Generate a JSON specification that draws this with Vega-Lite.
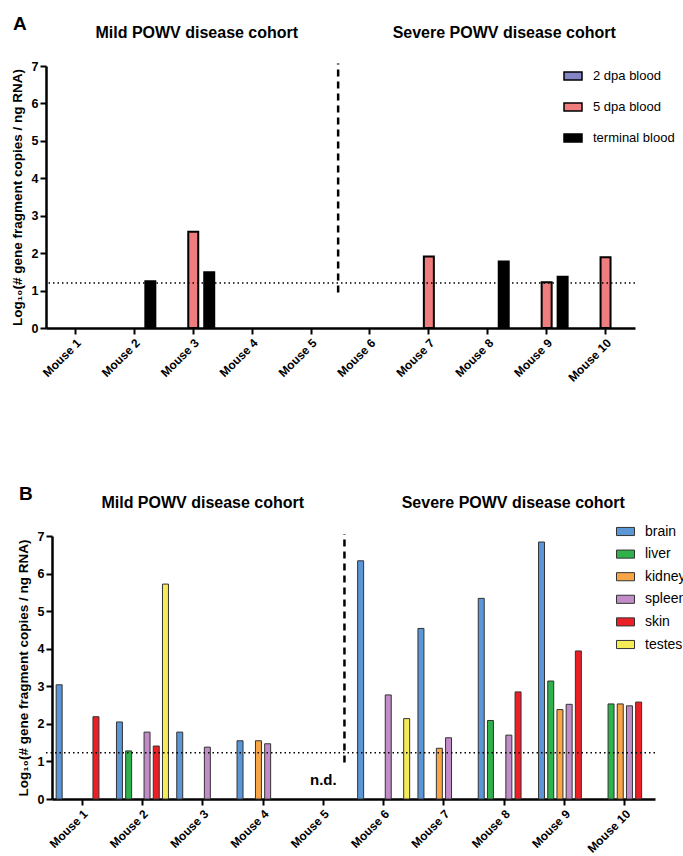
{
  "$schema": "https://vega.github.io/schema/vega-lite/v6.json",
  "padding": {"left": 10, "top": 15, "right": 0, "bottom": 0},
  "background": "white",
  "config": {
    "font": "Liberation Sans",
    "view": {"stroke": null},
    "axis": {
      "grid": false,
      "domainColor": "black",
      "domainWidth": 2.5,
      "tickColor": "black",
      "tickWidth": 2,
      "tickSize": 6,
      "labelColor": "black",
      "labelFont": "Liberation Sans",
      "labelFontWeight": "bold",
      "labelFontSize": 12.5,
      "titleFont": "Liberation Sans",
      "titleFontWeight": "bold",
      "titleFontSize": 13.5,
      "titleColor": "black"
    },
    "legend": {
      "labelFont": "Liberation Sans",
      "labelFontSize": 13,
      "labelColor": "black",
      "symbolType": "M-1,-0.45H1V0.45H-1Z",
      "symbolSize": 324,
      "symbolStrokeColor": "black",
      "symbolStrokeWidth": 1.5,
      "labelOffset": 10
    }
  },
  "datasets": {
    "bloodA": [
      {"mouse": "Mouse 2", "sample": "terminal blood", "value": 1.25},
      {"mouse": "Mouse 3", "sample": "5 dpa blood", "value": 2.57},
      {"mouse": "Mouse 3", "sample": "terminal blood", "value": 1.49},
      {"mouse": "Mouse 7", "sample": "5 dpa blood", "value": 1.91},
      {"mouse": "Mouse 8", "sample": "terminal blood", "value": 1.78},
      {"mouse": "Mouse 9", "sample": "5 dpa blood", "value": 1.22},
      {"mouse": "Mouse 9", "sample": "terminal blood", "value": 1.37},
      {"mouse": "Mouse 10", "sample": "5 dpa blood", "value": 1.89}
    ],
    "tissueB": [
      {"mouse": "Mouse 1", "tissue": "brain", "value": 3.04},
      {"mouse": "Mouse 1", "tissue": "skin", "value": 2.19},
      {"mouse": "Mouse 2", "tissue": "brain", "value": 2.05},
      {"mouse": "Mouse 2", "tissue": "liver", "value": 1.28},
      {"mouse": "Mouse 2", "tissue": "spleen", "value": 1.78},
      {"mouse": "Mouse 2", "tissue": "skin", "value": 1.41},
      {"mouse": "Mouse 2", "tissue": "testes", "value": 5.72},
      {"mouse": "Mouse 3", "tissue": "brain", "value": 1.78},
      {"mouse": "Mouse 3", "tissue": "spleen", "value": 1.38},
      {"mouse": "Mouse 4", "tissue": "brain", "value": 1.55},
      {"mouse": "Mouse 4", "tissue": "kidney", "value": 1.55},
      {"mouse": "Mouse 4", "tissue": "spleen", "value": 1.47},
      {"mouse": "Mouse 6", "tissue": "brain", "value": 6.34},
      {"mouse": "Mouse 6", "tissue": "spleen", "value": 2.77},
      {"mouse": "Mouse 6", "tissue": "testes", "value": 2.14},
      {"mouse": "Mouse 7", "tissue": "brain", "value": 4.54},
      {"mouse": "Mouse 7", "tissue": "kidney", "value": 1.35},
      {"mouse": "Mouse 7", "tissue": "spleen", "value": 1.63},
      {"mouse": "Mouse 8", "tissue": "brain", "value": 5.34},
      {"mouse": "Mouse 8", "tissue": "liver", "value": 2.09},
      {"mouse": "Mouse 8", "tissue": "spleen", "value": 1.7},
      {"mouse": "Mouse 8", "tissue": "skin", "value": 2.85},
      {"mouse": "Mouse 9", "tissue": "brain", "value": 6.84},
      {"mouse": "Mouse 9", "tissue": "liver", "value": 3.14},
      {"mouse": "Mouse 9", "tissue": "kidney", "value": 2.38},
      {"mouse": "Mouse 9", "tissue": "spleen", "value": 2.52},
      {"mouse": "Mouse 9", "tissue": "skin", "value": 3.94},
      {"mouse": "Mouse 10", "tissue": "liver", "value": 2.53},
      {"mouse": "Mouse 10", "tissue": "kidney", "value": 2.53},
      {"mouse": "Mouse 10", "tissue": "spleen", "value": 2.48},
      {"mouse": "Mouse 10", "tissue": "skin", "value": 2.58}
    ]
  },
  "bounds": "flush",
  "spacing": 208,
  "resolve": {
    "scale": {"color": "independent", "xOffset": "independent", "x": "independent", "y": "independent"},
    "legend": {"color": "independent"},
    "axis": {"x": "independent", "y": "independent"}
  },
  "vconcat": [
    {
      "width": 589,
      "height": 262,
      "title": {"text": "A", "anchor": "start", "frame": "bounds", "fontSize": 19, "fontWeight": "bold", "font": "Liberation Sans", "offset": -9, "dx": 3, "color": "black"},
      "layer": [
        {
          "data": {"name": "bloodA"},
          "mark": {"type": "bar", "stroke": "black", "strokeWidth": 2},
          "encoding": {
            "x": {
              "field": "mouse", "type": "nominal",
              "scale": {"domain": ["Mouse 1","Mouse 2","Mouse 3","Mouse 4","Mouse 5","Mouse 6","Mouse 7","Mouse 8","Mouse 9","Mouse 10"], "paddingInner": 0, "paddingOuter": 0},
              "axis": {"title": null, "labelAngle": -45, "labelPadding": 3, "labelFontSize": 12}
            },
            "xOffset": {
              "field": "sample", "type": "nominal",
              "scale": {"domain": ["2 dpa blood","5 dpa blood","terminal blood"], "paddingInner": 0.375, "paddingOuter": 0.53}
            },
            "y": {
              "field": "value", "type": "quantitative",
              "scale": {"domain": [0, 7], "nice": false},
              "axis": {"title": "Log₁₀(# gene fragment copies / ng RNA)", "values": [0,1,2,3,4,5,6,7], "labelOverlap": false, "labelPadding": 2, "titlePadding": 7}
            },
            "color": {
              "field": "sample", "type": "nominal",
              "scale": {"domain": ["2 dpa blood","5 dpa blood","terminal blood"], "range": ["#8585c6","#ef7d7d","#000000"]},
              "legend": {"title": null, "orient": "none", "legendX": 517, "legendY": 0, "rowPadding": 13}
            }
          }
        },
        {
          "data": {"values": [{}]},
          "mark": {"type": "rule", "strokeDash": [1.5, 3], "strokeWidth": 1.5, "color": "black"},
          "encoding": {"y": {"datum": 1.2, "type": "quantitative", "axis": {"title": "Log₁₀(# gene fragment copies / ng RNA)", "values": [0,1,2,3,4,5,6,7], "labelOverlap": false, "labelPadding": 2, "titlePadding": 7}}}
        },
        {
          "data": {"values": [{}]},
          "mark": {"type": "rule", "strokeDash": [7, 5], "strokeWidth": 2.5, "color": "black"},
          "encoding": {
            "x": {"datum": "Mouse 5", "type": "nominal", "bandPosition": 0.96},
            "y": {"datum": 0.95, "type": "quantitative", "axis": {"title": "Log₁₀(# gene fragment copies / ng RNA)", "values": [0,1,2,3,4,5,6,7], "labelOverlap": false, "labelPadding": 2, "titlePadding": 7}},
            "y2": {"datum": 7.07}
          }
        },
        {
          "data": {"values": [{}]},
          "mark": {"type": "text", "fontSize": 16, "fontWeight": "bold", "color": "black"},
          "encoding": {
            "x": {"datum": "Mouse 3", "type": "nominal", "bandPosition": 0.56},
            "y": {"datum": 7.87, "type": "quantitative", "axis": {"title": "Log₁₀(# gene fragment copies / ng RNA)", "values": [0,1,2,3,4,5,6,7], "labelOverlap": false, "labelPadding": 2, "titlePadding": 7}},
            "text": {"value": "Mild POWV disease cohort"}
          }
        },
        {
          "data": {"values": [{}]},
          "mark": {"type": "text", "fontSize": 16, "fontWeight": "bold", "color": "black"},
          "encoding": {
            "x": {"datum": "Mouse 8", "type": "nominal", "bandPosition": 0.78},
            "y": {"datum": 7.87, "type": "quantitative", "axis": {"title": "Log₁₀(# gene fragment copies / ng RNA)", "values": [0,1,2,3,4,5,6,7], "labelOverlap": false, "labelPadding": 2, "titlePadding": 7}},
            "text": {"value": "Severe POWV disease cohort"}
          }
        }
      ]
    },
    {
      "width": 609,
      "height": 263,
      "title": {"text": "B", "anchor": "start", "frame": "bounds", "fontSize": 19, "fontWeight": "bold", "font": "Liberation Sans", "offset": -9, "dx": 3, "color": "black"},
      "layer": [
        {
          "data": {"name": "tissueB"},
          "mark": {"type": "bar", "stroke": "#333333", "strokeWidth": 1},
          "encoding": {
            "x": {
              "field": "mouse", "type": "nominal",
              "scale": {"domain": ["Mouse 1","Mouse 2","Mouse 3","Mouse 4","Mouse 5","Mouse 6","Mouse 7","Mouse 8","Mouse 9","Mouse 10"], "paddingInner": 0, "paddingOuter": 0, "range": [6, 609]},
              "axis": {"title": null, "labelAngle": -45, "labelPadding": 3, "labelFontSize": 12}
            },
            "xOffset": {
              "field": "tissue", "type": "nominal",
              "scale": {"domain": ["brain","liver","kidney","spleen","skin","testes"], "paddingInner": 0.35, "paddingOuter": 0.45}
            },
            "y": {
              "field": "value", "type": "quantitative",
              "scale": {"domain": [0, 7], "nice": false},
              "axis": {"title": "Log₁₀(# gene fragment copies / ng RNA)", "values": [0,1,2,3,4,5,6,7], "labelOverlap": false, "labelPadding": 2, "titlePadding": 7, "offset": -6}
            },
            "color": {
              "field": "tissue", "type": "nominal",
              "scale": {"domain": ["brain","liver","kidney","spleen","skin","testes"], "range": ["#5b96d6","#2fb14b","#f8a546","#c28cc8","#ec1f27","#f6ec58"]},
              "legend": {"title": null, "orient": "none", "legendX": 570, "legendY": -14, "rowPadding": 5.6, "labelFontSize": 14, "symbolStrokeColor": "#333333", "symbolStrokeWidth": 1}
            }
          }
        },
        {
          "data": {"values": [{}]},
          "mark": {"type": "rule", "strokeDash": [1.5, 3], "strokeWidth": 1.5, "color": "black"},
          "encoding": {"y": {"datum": 1.23, "type": "quantitative", "axis": {"title": "Log₁₀(# gene fragment copies / ng RNA)", "values": [0,1,2,3,4,5,6,7], "labelOverlap": false, "labelPadding": 2, "titlePadding": 7, "offset": -6}}}
        },
        {
          "data": {"values": [{}]},
          "mark": {"type": "rule", "strokeDash": [7, 5], "strokeWidth": 2.5, "color": "black"},
          "encoding": {
            "x": {"datum": "Mouse 5", "type": "nominal", "bandPosition": 0.85},
            "y": {"datum": 0.97, "type": "quantitative", "axis": {"title": "Log₁₀(# gene fragment copies / ng RNA)", "values": [0,1,2,3,4,5,6,7], "labelOverlap": false, "labelPadding": 2, "titlePadding": 7, "offset": -6}},
            "y2": {"datum": 7.05}
          }
        },
        {
          "data": {"values": [{}]},
          "mark": {"type": "text", "fontSize": 15, "fontWeight": "bold", "color": "black"},
          "encoding": {
            "x": {"datum": "Mouse 5", "type": "nominal", "bandPosition": 0.5},
            "y": {"datum": 0.51, "type": "quantitative", "axis": {"title": "Log₁₀(# gene fragment copies / ng RNA)", "values": [0,1,2,3,4,5,6,7], "labelOverlap": false, "labelPadding": 2, "titlePadding": 7, "offset": -6}},
            "text": {"value": "n.d."}
          }
        },
        {
          "data": {"values": [{}]},
          "mark": {"type": "text", "fontSize": 16, "fontWeight": "bold", "color": "black"},
          "encoding": {
            "x": {"datum": "Mouse 3", "type": "nominal", "bandPosition": 0.5},
            "y": {"datum": 7.88, "type": "quantitative", "axis": {"title": "Log₁₀(# gene fragment copies / ng RNA)", "values": [0,1,2,3,4,5,6,7], "labelOverlap": false, "labelPadding": 2, "titlePadding": 7, "offset": -6}},
            "text": {"value": "Mild POWV disease cohort"}
          }
        },
        {
          "data": {"values": [{}]},
          "mark": {"type": "text", "fontSize": 16, "fontWeight": "bold", "color": "black"},
          "encoding": {
            "x": {"datum": "Mouse 8", "type": "nominal", "bandPosition": 0.65},
            "y": {"datum": 7.88, "type": "quantitative", "axis": {"title": "Log₁₀(# gene fragment copies / ng RNA)", "values": [0,1,2,3,4,5,6,7], "labelOverlap": false, "labelPadding": 2, "titlePadding": 7, "offset": -6}},
            "text": {"value": "Severe POWV disease cohort"}
          }
        }
      ]
    }
  ]
}
